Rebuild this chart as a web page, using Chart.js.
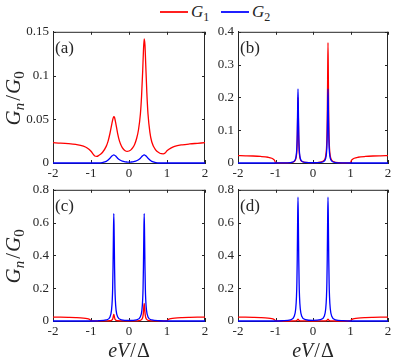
<!DOCTYPE html>
<html>
<head>
<meta charset="utf-8">
<script src="https://cdn.jsdelivr.net/npm/chart.js@4.4.0/dist/chart.umd.min.js"></script>
<style>
  body { margin: 0; background: #fff; }
  #wrap { position: relative; width: 397px; height: 361px; overflow: hidden; }
  canvas { position: absolute; }
  .key { position: absolute; top: 11px; width: 28px; height: 1.5px; }
  .lab { position: absolute; top: 0; line-height: 24px; font-family: 'Liberation Serif', serif; font-size: 17px; color: #262626; }
  .lab sub { font-size: 12px; font-style: normal; }
</style>
</head>
<body>
<div id="wrap">
  <span class="key" style="left:160px;background:#ff2020"></span>
  <span class="lab" style="left:191px"><i>G</i><sub>1</sub></span>
  <span class="key" style="left:221px;background:#2020ff"></span>
  <span class="lab" style="left:252px"><i>G</i><sub>2</sub></span>
  <canvas id="chartA" width="215" height="165" style="left:0;top:20px"></canvas>
  <canvas id="chartB" width="192" height="165" style="left:205px;top:20px"></canvas>
  <canvas id="chartC" width="215" height="183" style="left:0;top:178px"></canvas>
  <canvas id="chartD" width="192" height="183" style="left:205px;top:178px"></canvas>
</div>
<script>
// ---- data (eV/Delta on x, Gn/G0 on y) ----
var xTicks = [-2, -1, 0, 1, 2];

// panel (a)
var xsA = [-2, -1.8, -1.6, -1.4, -1.2, -1.1, -1.0, -0.95, -0.9, -0.85, -0.8, -0.7, -0.6, -0.55, -0.5, -0.45, -0.42, -0.4, -0.38, -0.35,
           -0.3, -0.25, -0.2, -0.15, -0.1, -0.05, 0, 0.05, 0.1, 0.15, 0.2, 0.25, 0.3, 0.33, 0.36, 0.38, 0.4, 0.42, 0.44, 0.47,
           0.5, 0.55, 0.6, 0.7, 0.8, 0.85, 0.9, 0.95, 1.0, 1.1, 1.2, 1.4, 1.6, 1.8, 2.0];
var g1A = [0.0232, 0.0228, 0.0222, 0.0212, 0.0193, 0.0172, 0.0135, 0.0105, 0.008, 0.0076, 0.0085, 0.012, 0.019, 0.025, 0.034, 0.045, 0.051, 0.053, 0.052, 0.046,
           0.034, 0.025, 0.0195, 0.016, 0.014, 0.0133, 0.0137, 0.015, 0.0175, 0.0215, 0.028, 0.038, 0.056, 0.076, 0.105, 0.128, 0.142, 0.135, 0.113, 0.08,
           0.056, 0.035, 0.024, 0.015, 0.0115, 0.0106, 0.0105, 0.0115, 0.014, 0.017, 0.019, 0.0208, 0.0218, 0.0225, 0.0232];
var g2A = [0, 0, 0, 0, 0, 0, 0, 0, 0, 0, 0, 0.0005, 0.0018, 0.0035, 0.0055, 0.008, 0.0089, 0.0092, 0.0089, 0.008,
           0.0055, 0.0038, 0.0026, 0.0018, 0.0013, 0.0011, 0.001, 0.0011, 0.0013, 0.0018, 0.0026, 0.0038, 0.0055, 0.007, 0.0084, 0.0089, 0.0092, 0.0089, 0.0084, 0.007,
           0.0055, 0.0035, 0.0018, 0.0005, 0, 0, 0, 0, 0, 0, 0, 0, 0, 0, 0];

// panels (b), (c), (d) share one x grid
var xsN = [-2, -1.8, -1.6, -1.4, -1.2, -1.1, -1.05, -1.02, -1, -0.8, -0.6, -0.5, -0.46, -0.44, -0.43, -0.42, -0.41, -0.4, -0.39, -0.38,
           -0.37, -0.36, -0.34, -0.3, -0.2, 0, 0.2, 0.3, 0.34, 0.36, 0.37, 0.38, 0.39, 0.4, 0.41, 0.42, 0.43, 0.44, 0.46, 0.5,
           0.6, 0.8, 1, 1.02, 1.05, 1.1, 1.2, 1.4, 1.6, 1.8, 2];
var g1B = [0.0225, 0.022, 0.0213, 0.02, 0.0175, 0.0145, 0.011, 0.007, 0.0005, 0.0005, 0.0012, 0.0046, 0.0118, 0.0246, 0.04, 0.072, 0.138, 0.2, 0.138, 0.072,
           0.04, 0.0246, 0.0118, 0.005, 0.002, 0.0013, 0.003, 0.0084, 0.0216, 0.045, 0.0734, 0.132, 0.254, 0.367, 0.254, 0.132, 0.0734, 0.045, 0.0216, 0.0084,
           0.0022, 0.0006, 0.0005, 0.007, 0.011, 0.0145, 0.0175, 0.02, 0.0213, 0.022, 0.0225];
var g2B = [0, 0, 0, 0, 0, 0, 0, 0, 0, 0.0004, 0.0014, 0.0057, 0.015, 0.031, 0.05, 0.088, 0.163, 0.226, 0.163, 0.088,
           0.05, 0.031, 0.015, 0.0057, 0.0016, 0.0008, 0.0016, 0.0057, 0.015, 0.031, 0.05, 0.088, 0.163, 0.226, 0.163, 0.088, 0.05, 0.031, 0.015, 0.0057,
           0.0014, 0.0004, 0, 0, 0, 0, 0, 0, 0, 0, 0];
var g1C = [0.024, 0.0235, 0.0225, 0.021, 0.018, 0.0145, 0.011, 0.007, 0.0005, 0.0003, 0.0004, 0.0015, 0.004, 0.008, 0.0123, 0.02, 0.032, 0.04, 0.032, 0.02,
           0.0123, 0.008, 0.004, 0.0016, 0.0006, 0.0006, 0.0012, 0.0042, 0.0108, 0.0216, 0.033, 0.054, 0.086, 0.108, 0.086, 0.054, 0.033, 0.0216, 0.0108, 0.0042,
           0.0011, 0.0003, 0.0005, 0.007, 0.011, 0.0145, 0.018, 0.021, 0.0225, 0.0235, 0.024];
var g2C = [0, 0, 0, 0, 0, 0, 0, 0, 0, 0.0016, 0.0065, 0.025, 0.066, 0.131, 0.2, 0.33, 0.52, 0.655, 0.52, 0.33,
           0.2, 0.131, 0.066, 0.026, 0.0075, 0.0032, 0.0075, 0.026, 0.066, 0.131, 0.2, 0.33, 0.52, 0.655, 0.52, 0.33, 0.2, 0.131, 0.066, 0.025,
           0.0065, 0.0016, 0, 0, 0, 0, 0, 0, 0, 0, 0];
var g1D = [0.024, 0.0235, 0.0225, 0.021, 0.018, 0.0145, 0.011, 0.007, 0.0005, 0, 0.0001, 0.0005, 0.0012, 0.0024, 0.0037, 0.006, 0.0096, 0.012, 0.0096, 0.006,
           0.0037, 0.0024, 0.0012, 0.0005, 0.0002, 0.0001, 0.0002, 0.0005, 0.0012, 0.0024, 0.0037, 0.006, 0.0096, 0.012, 0.0096, 0.006, 0.0037, 0.0024, 0.0012, 0.0005,
           0.0001, 0, 0.0005, 0.007, 0.011, 0.0145, 0.018, 0.021, 0.0225, 0.0235, 0.024];
var g2D = [0, 0, 0, 0, 0, 0, 0, 0, 0, 0.0018, 0.0075, 0.029, 0.076, 0.151, 0.232, 0.378, 0.6, 0.755, 0.6, 0.378,
           0.232, 0.151, 0.076, 0.029, 0.0085, 0.0036, 0.0085, 0.029, 0.076, 0.151, 0.232, 0.378, 0.6, 0.755, 0.6, 0.378, 0.232, 0.151, 0.076, 0.029,
           0.0075, 0.0018, 0, 0, 0, 0, 0, 0, 0, 0, 0];

// y tick labels
var yTicksA = [0, 0.05, 0.1, 0.15];
var yLabelsA = ['0', '0.05', '0.1', '0.15'];
var yTicksB = [0, 0.1, 0.2, 0.3, 0.4];
var yLabelsB = ['0', '0.1', '0.2', '0.3', '0.4'];
var yTicksCD = [0, 0.2, 0.4, 0.6, 0.8];
var yLabelsCD = ['0', '0.2', '0.4', '0.6', '0.8'];

var ink = '#262626';
var serif = "'Liberation Serif', 'DejaVu Serif', serif";

// axis titles written like LaTeX: pieces with their own style / offset
var yTitleParts = [
     { t: 'G', style: 'italic', size: 21 },
     { t: 'n', style: 'italic', size: 15, dy: 4, gap: 2 },
     { t: '/', style: 'normal', size: 21, gap: 1 },
     { t: 'G', style: 'italic', size: 21 },
     { t: '0', style: 'normal', size: 15, dy: 4 }
];
var xTitleParts = [
     { t: 'e', style: 'italic', size: 20 },
     { t: 'V', style: 'italic', size: 20, gap: 1 },
     { t: '/', style: 'normal', size: 20, gap: 1 },
     { t: 'Δ', style: 'normal', size: 20 }
];

function pts(xs, ys) {
     return xs.map(function (x, i) { return { x: x, y: ys[i] }; });
}

function drawParts(ctx, parts, cx, baseY) {
     var w = 0;
     parts.forEach(function (p) {
          ctx.font = p.style + ' ' + p.size + 'px ' + serif;
          p.w = ctx.measureText(p.t).width;
          w += p.w + (p.gap || 0);
     });
     var x = cx - w / 2;
     parts.forEach(function (p) {
          ctx.font = p.style + ' ' + p.size + 'px ' + serif;
          ctx.fillText(p.t, x, baseY + (p.dy || 0));
          x += p.w + (p.gap || 0);
     });
}

// box on all four sides with inward ticks, the panel tag and axis titles
var frame = {
     id: 'frame',
     beforeDatasetsDraw: function (chart, args, opts) {
          var a = chart.chartArea, ctx = chart.ctx;
          var sx = chart.scales.x, sy = chart.scales.y;
          ctx.save();
          ctx.strokeStyle = ink;
          ctx.lineWidth = 1;
          ctx.beginPath();
          ctx.moveTo(a.left, a.top + 0.5); ctx.lineTo(a.right, a.top + 0.5);
          ctx.moveTo(a.right - 0.5, a.top); ctx.lineTo(a.right - 0.5, a.bottom);
          sx.ticks.forEach(function (t) {
               var p = Math.round(sx.getPixelForValue(t.value)) + 0.5;
               ctx.moveTo(p, a.bottom); ctx.lineTo(p, a.bottom - 3);
               ctx.moveTo(p, a.top); ctx.lineTo(p, a.top + 3);
          });
          sy.ticks.forEach(function (t) {
               var p = Math.round(sy.getPixelForValue(t.value)) + 0.5;
               ctx.moveTo(a.left, p); ctx.lineTo(a.left + 3, p);
               ctx.moveTo(a.right, p); ctx.lineTo(a.right - 3, p);
          });
          ctx.stroke();
          ctx.fillStyle = ink;
          ctx.textBaseline = 'middle';
          ctx.font = '17px ' + serif;
          ctx.fillText(opts.tag, a.left + 2, a.top + 17);
          ctx.textBaseline = 'alphabetic';
          if (opts.xTitle) {
               drawParts(ctx, xTitleParts, (a.left + a.right) / 2, chart.height - 4);
          }
          if (opts.yTitle) {
               ctx.save();
               ctx.translate(20, (a.top + a.bottom) / 2 + 1);
               ctx.rotate(-Math.PI / 2);
               drawParts(ctx, yTitleParts, 0, 0);
               ctx.restore();
          }
          ctx.restore();
     }
};

function panel(idName, tag, xs, g1, g2, yTicks, yLabels, yMax, conf) {
     new Chart(document.getElementById(idName), {
          type: 'scatter',
          data: {
               datasets: [
                    {
                         label: 'G1',
                         data: pts(xs, g1),
                         borderColor: '#ff0000',
                         borderWidth: 1.3,
                         showLine: true,
                         pointRadius: 0,
                         cubicInterpolationMode: 'monotone',
                         clip: false,
                         order: 2
                    },
                    {
                         label: 'G2',
                         data: pts(xs, g2),
                         borderColor: '#0000ff',
                         borderWidth: 1.3,
                         showLine: true,
                         pointRadius: 0,
                         cubicInterpolationMode: 'monotone',
                         clip: false,
                         order: 1
                    }
               ]
          },
          options: {
               responsive: false,
               animation: false,
               devicePixelRatio: 1,
               layout: { padding: { top: 7, right: conf.right, left: 0, bottom: 0 } },
               plugins: {
                    legend: { display: false },
                    tooltip: { enabled: false },
                    frame: { tag: tag, xTitle: conf.xTitle, yTitle: conf.yTitle }
               },
               scales: {
                    x: {
                         type: 'linear',
                         min: -2,
                         max: 2,
                         afterBuildTicks: function (s) { s.ticks = xTicks.map(function (v) { return { value: v }; }); },
                         ticks: { font: { family: serif, size: 13 }, color: ink, padding: 3, maxRotation: 0, autoSkip: false },
                         grid: { display: false, drawTicks: false },
                         border: { display: true, color: ink, width: 1 },
                         afterFit: function (s) { s.height = conf.xh; }
                    },
                    y: {
                         type: 'linear',
                         min: 0,
                         max: yMax,
                         afterBuildTicks: function (s) { s.ticks = yTicks.map(function (v) { return { value: v }; }); },
                         ticks: {
                              font: { family: serif, size: 13 },
                              color: ink,
                              padding: 4,
                              autoSkip: false,
                              callback: function (value, index) { return yLabels[index]; }
                         },
                         grid: { display: false, drawTicks: false },
                         border: { display: true, color: ink, width: 1 },
                         afterFit: function (s) { s.width = conf.yw; }
                    }
               }
          },
          plugins: [frame]
     });
}

panel('chartA', '(a)', xsA, g1A, g2A, yTicksA, yLabelsA, 0.15, { right: 10, yw: 53, xh: 22, xTitle: false, yTitle: true });
panel('chartB', '(b)', xsN, g1B, g2B, yTicksB, yLabelsB, 0.4, { right: 9, yw: 33, xh: 22, xTitle: false, yTitle: false });
panel('chartC', '(c)', xsN, g1C, g2C, yTicksCD, yLabelsCD, 0.8, { right: 10, yw: 53, xh: 40, xTitle: true, yTitle: true });
panel('chartD', '(d)', xsN, g1D, g2D, yTicksCD, yLabelsCD, 0.8, { right: 9, yw: 33, xh: 40, xTitle: true, yTitle: false });
</script>
</body>
</html>
